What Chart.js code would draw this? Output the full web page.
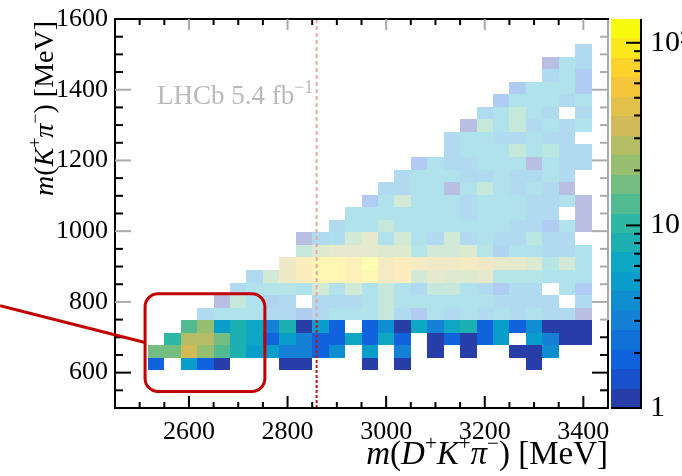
<!DOCTYPE html>
<html>
<head>
<meta charset="utf-8">
<title>m(D+K+pi-) vs m(K+pi-)</title>
<script src="https://cdn.jsdelivr.net/npm/chart.js@4.4.1/dist/chart.umd.min.js"></script>
<style>
  html, body { margin: 0; padding: 0; background: #fff; }
  canvas { display: block; }
</style>
</head>
<body>
<canvas id="myChart" width="682" height="476"></canvas>
<script>
// binning of the 2D histogram
var xMin = 2450, xMax = 3450, nBinsX = 30;
var yMin = 500, yMax = 1600, nBinsY = 31;
var zMin = 1, zMax = 135, nContours = 20;
var xStep = (xMax - xMin) / nBinsX;
var yStep = (yMax - yMin) / nBinsY;

var xTicks = [2600, 2800, 3000, 3200, 3400];
var yTicks = [600, 800, 1000, 1200, 1400, 1600];
var zTicks = [1, 10, 100];

// rows from this m(K+pi-) bin upwards are drawn faded
var fadeFromRow = 7;
// vertical marker
var thresholdMass = 2859;
// highlighted region and its pointer
var boxX = [2511, 2754], boxY = [547, 823];
var pointerFrom = [2217, 789], pointerTo = [2511, 685];

// entries per bin, one row per m(K+pi-) bin, starting at bin firstRow
var firstRow = 3;
var rowStart = [2, 2, 3, 4, 5, 6, 7, 8, 10, 11, 11, 13, 14, 15, 16, 17, 18, 20, 20, 21, 22, 23, 24, 26, 26, 28];
var rowCounts = [
  [2, 0, 5, 2, 1, 0, 0, 0, 1, 1, 0, 0, 0, 1, 0, 1, 0, 0, 0, 0, 0, 0, 0, 1],
  [18, 18, 38, 22, 12, 9, 5, 5, 3, 3, 2, 4, 0, 5, 0, 3, 0, 1, 0, 1, 0, 0, 1, 1, 4],
  [10, 27, 27, 18, 9, 6, 2, 5, 3, 2, 2, 6, 2, 6, 2, 0, 1, 2, 1, 2, 5, 0, 5, 3, 1, 1],
  [12, 22, 5, 9, 6, 3, 8, 1, 5, 2, 0, 2, 4, 1, 7, 3, 6, 9, 2, 5, 2, 4, 1, 1, 1],
  [4, 7, 7, 7, 4, 4, 2, 4, 7, 7, 7, 12, 4, 2, 7, 4, 7, 4, 7, 4, 7, 4, 4, 1],
  [1, 12, 7, 3, 4, 0, 4, 4, 4, 7, 12, 7, 7, 7, 7, 7, 7, 4, 4, 4, 4, 0, 4],
  [4, 7, 8, 8, 7, 15, 7, 15, 7, 12, 7, 4, 12, 12, 7, 4, 2, 4, 4, 0, 7, 2],
  [4, 18, 35, 55, 90, 100, 80, 100, 40, 60, 15, 30, 20, 22, 28, 8, 8, 8, 7, 7, 7],
  [35, 60, 90, 100, 80, 110, 50, 60, 40, 35, 35, 45, 35, 30, 30, 20, 8, 15, 7],
  [12, 20, 30, 30, 30, 20, 20, 8, 18, 18, 20, 8, 3, 7, 7, 4, 4, 7],
  [1, 4, 5, 15, 25, 7, 15, 7, 4, 15, 4, 7, 4, 4, 10, 4, 4],
  [4, 7, 7, 12, 7, 7, 7, 7, 7, 7, 7, 4, 4, 2, 7, 1],
  [7, 7, 7, 7, 7, 7, 7, 4, 7, 7, 7, 4, 4, 0, 1],
  [2, 7, 15, 7, 7, 7, 4, 7, 7, 7, 4, 4, 7, 1],
  [4, 4, 7, 7, 1, 7, 12, 7, 4, 7, 4, 1],
  [4, 7, 7, 7, 4, 4, 7, 4, 4, 7, 4],
  [2, 7, 4, 4, 7, 7, 7, 1, 7, 4, 4],
  [4, 7, 7, 7, 12, 7, 10, 4, 4],
  [4, 7, 7, 4, 4, 7, 4, 4],
  [1, 12, 7, 12, 4, 7, 4, 7],
  [4, 7, 12, 7, 4, 0, 4],
  [2, 7, 7, 7, 4, 7],
  [2, 7, 7, 7, 2],
  [4, 7, 2],
  [1, 7, 4],
  [4]
];

// ROOT kBird palette
var birdStops = [0, 0.125, 0.25, 0.375, 0.5, 0.625, 0.75, 0.875, 1];
var birdR = [0.2082, 0.0592, 0.0780, 0.0232, 0.1802, 0.5301, 0.8186, 0.9956, 0.9764];
var birdG = [0.1664, 0.3599, 0.5041, 0.6419, 0.7178, 0.7492, 0.7328, 0.7862, 0.9832];
var birdB = [0.5293, 0.8684, 0.8385, 0.7914, 0.6425, 0.4662, 0.3499, 0.1968, 0.0539];
var fadeAlpha = 0.33;

var serif = '"Liberation Serif", "Times New Roman", serif';

function bird(t) {
  var k = 0;
  while (k < birdStops.length - 2 && t > birdStops[k + 1]) k++;
  var f = (t - birdStops[k]) / (birdStops[k + 1] - birdStops[k]);
  function mix(a) { return Math.round(255 * (a[k] + (a[k + 1] - a[k]) * f)); }
  return [mix(birdR), mix(birdG), mix(birdB)];
}

function contourColor(i) {
  var idx = Math.floor((i + 0.99) * 255 / nContours);
  return bird(Math.min(idx, 254) / 254);
}

function levelOf(n) {
  var i = Math.floor(Math.log(n / zMin) / Math.log(zMax / zMin) * nContours);
  return Math.max(0, Math.min(nContours - 1, i));
}

function rgb(c, faded) {
  if (faded) c = c.map(function (v) { return Math.round(255 - (255 - v) * fadeAlpha); });
  return 'rgb(' + c[0] + ',' + c[1] + ',' + c[2] + ')';
}

// one point per filled bin
var cells = [];
rowCounts.forEach(function (row, k) {
  var j = firstRow + k;
  row.forEach(function (n, m) {
    if (n <= 0) return;
    var i = rowStart[k] + m;
    cells.push({
      x: xMin + (i + 0.5) * xStep,
      y: yMin + (j + 0.5) * yStep,
      v: n,
      faded: j >= fadeFromRow
    });
  });
});

var heatmap = {
  id: 'heatmap',
  beforeDatasetsDraw: function (chart) {
    var ctx = chart.ctx, xs = chart.scales.x, ys = chart.scales.y;
    ctx.save();
    chart.data.datasets[0].data.forEach(function (p) {
      var x0 = Math.round(xs.getPixelForValue(p.x - xStep / 2));
      var x1 = Math.round(xs.getPixelForValue(p.x + xStep / 2));
      var y0 = Math.round(ys.getPixelForValue(p.y - yStep / 2));
      var y1 = Math.round(ys.getPixelForValue(p.y + yStep / 2));
      ctx.fillStyle = rgb(contourColor(levelOf(p.v)), p.faded);
      ctx.fillRect(x0, y1, x1 - x0, y0 - y1);
    });
    ctx.restore();
  }
};

function seq(from, to, step) {
  var a = [];
  for (var v = from; v <= to + 1e-6; v += step) a.push(v);
  return a;
}

function line(ctx, x0, y0, x1, y1, color, w) {
  ctx.strokeStyle = color;
  ctx.lineWidth = w;
  ctx.beginPath();
  ctx.moveTo(x0, y0);
  ctx.lineTo(x1, y1);
  ctx.stroke();
}

// text made of roman / italic / superscript pieces
function fontFor(p, size) {
  var s = p[1] === 's' ? Math.round(size * 0.65) : size;
  return (p[1] === 'i' ? 'italic ' : '') + s + 'px ' + serif;
}
function richWidth(ctx, parts, size) {
  var w = 0;
  parts.forEach(function (p) {
    ctx.font = fontFor(p, size);
    w += ctx.measureText(p[0]).width;
  });
  return w;
}
function drawRich(ctx, parts, x, y, size) {
  parts.forEach(function (p) {
    ctx.font = fontFor(p, size);
    ctx.fillText(p[0], x, p[1] === 's' ? y - size * 0.42 : y);
    x += ctx.measureText(p[0]).width;
  });
}

var xTitle = [['m', 'i'], ['(', 'r'], ['D', 'i'], ['+', 's'], ['K', 'i'], ['+', 's'], ['\u03C0', 'i'], ['\u2212', 's'], [') [MeV]', 'r']];
var yTitle = [['m', 'i'], ['(', 'r'], ['K', 'i'], ['+', 's'], ['\u03C0', 'i'], ['\u2212', 's'], [') [MeV]', 'r']];
var lumiText = [['LHCb 5.4 fb', 'r'], ['\u22121', 's']];

var decorations = {
  id: 'decorations',
  afterDatasetsDraw: function (chart) {
    var ctx = chart.ctx, a = chart.chartArea;
    var xs = chart.scales.x, ys = chart.scales.y, zs = chart.scales.z;
    var fadeY = Math.round(ys.getPixelForValue(yMin + fadeFromRow * yStep));
    var gray = 'rgb(170,170,170)';
    ctx.save();

    // threshold marker
    var xt = xs.getPixelForValue(thresholdMass);
    ctx.setLineDash([4, 3]);
    line(ctx, xt, a.top, xt, fadeY, 'rgb(236,168,168)', 2);
    ctx.setLineDash([3, 2]);
    line(ctx, xt, fadeY, xt, a.bottom, 'rgb(185,25,25)', 2);
    ctx.setLineDash([]);

    // frame
    line(ctx, a.right, a.top, a.right, fadeY, gray, 2);
    line(ctx, a.right, fadeY, a.right, a.bottom, '#000', 2);
    line(ctx, a.left, a.top - 1, a.left, a.bottom + 1, '#000', 2);
    line(ctx, a.left, a.top, a.right + 1, a.top, '#000', 2);
    line(ctx, a.left, a.bottom, a.right + 1, a.bottom, '#000', 2);

    seq(xMin + 50, xMax - 50, 50).forEach(function (v) {
      var px = xs.getPixelForValue(v), major = v % 200 === 0;
      line(ctx, px, a.bottom, px, a.bottom - (major ? 12 : 6), '#000', 2);
      line(ctx, px, a.top, px, a.top + (major ? 11 : 6), major ? gray : '#000', 2);
    });
    seq(yMin + 50, yMax - 50, 50).forEach(function (v) {
      var py = ys.getPixelForValue(v), major = v % 200 === 0, upper = py < fadeY;
      var len = major ? 16 : 8;
      line(ctx, a.left, py, a.left + len, py, major && upper ? gray : '#000', 2);
      line(ctx, a.right, py, a.right - len, py, upper ? gray : '#000', 2);
    });

    // colour bar
    var cbL = a.right + 3, cbR = a.right + 33;
    for (var i = 0; i < nContours; i++) {
      var lo = zMin * Math.pow(zMax / zMin, i / nContours);
      var hi = zMin * Math.pow(zMax / zMin, (i + 1) / nContours);
      var y0 = Math.round(zs.getPixelForValue(lo)), y1 = Math.round(zs.getPixelForValue(hi));
      ctx.fillStyle = rgb(contourColor(i), false);
      ctx.fillRect(cbL, y1, cbR - cbL, y0 - y1);
    }
    line(ctx, cbR, a.top, cbR, a.bottom + 1, '#000', 2);
    line(ctx, cbL, a.bottom, cbR + 1, a.bottom, '#000', 2);
    [1, 10].forEach(function (d) {
      for (var k = 1; k <= 9; k++) {
        var v = d * k;
        if (v > zMax) return;
        var py = zs.getPixelForValue(v);
        line(ctx, cbR, py, cbR - (k === 1 ? 15 : 7), py, '#000', 2);
      }
    });
    var p100 = zs.getPixelForValue(100);
    line(ctx, cbR, p100, cbR - 15, p100, '#000', 2);

    // axis titles
    ctx.fillStyle = '#000';
    ctx.textBaseline = 'alphabetic';
    var tw = richWidth(ctx, xTitle, 33);
    drawRich(ctx, xTitle, a.right - tw, 464, 33);

    ctx.save();
    ctx.translate(53, a.top + 2);
    ctx.rotate(-Math.PI / 2);
    tw = richWidth(ctx, yTitle, 28);
    drawRich(ctx, yTitle, -tw, 0, 28);
    ctx.restore();

    ctx.fillStyle = 'rgb(185,185,185)';
    drawRich(ctx, lumiText, xs.getPixelForValue(2535), ys.getPixelForValue(1360), 27);

    // highlighted region
    var bx0 = xs.getPixelForValue(boxX[0]), bx1 = xs.getPixelForValue(boxX[1]);
    var by0 = ys.getPixelForValue(boxY[0]), by1 = ys.getPixelForValue(boxY[1]);
    ctx.strokeStyle = 'rgb(192,0,0)';
    ctx.lineWidth = 3;
    ctx.beginPath();
    ctx.roundRect(bx0, by1, bx1 - bx0, by0 - by1, 13);
    ctx.stroke();
    line(ctx, xs.getPixelForValue(pointerFrom[0]), ys.getPixelForValue(pointerFrom[1]),
      xs.getPixelForValue(pointerTo[0]), ys.getPixelForValue(pointerTo[1]), 'rgb(192,0,0)', 3);

    ctx.restore();
  }
};

function fixTicks(values) {
  return function (scale) {
    scale.ticks = values.map(function (v) { return { value: v }; });
  };
}

// keep the plot frame where the layout puts it, labels may overhang
function fixSize(prop, size) {
  return function (s) {
    s[prop] = size;
    s.paddingTop = 0; s.paddingBottom = 0;
    s.paddingLeft = 0; s.paddingRight = 0;
  };
}

function plain(v) { return String(v); }

var tickFont = { family: serif, size: 26 };

var ctx = document.getElementById('myChart');
var myChart = new Chart(ctx, {
  type: 'scatter',
  data: {
    datasets: [{
      label: 'entries',
      data: cells,
      pointRadius: 0,
      pointHoverRadius: 0
    }]
  },
  options: {
    responsive: false,
    animation: false,
    devicePixelRatio: 1,
    layout: { padding: { top: 19 } },
    plugins: { legend: { display: false }, tooltip: { enabled: false } },
    scales: {
      x: {
        type: 'linear', position: 'bottom', min: xMin, max: xMax,
        grid: { display: false, drawTicks: false }, border: { display: false },
        afterBuildTicks: fixTicks(xTicks),
        afterFit: fixSize('height', 68),
        ticks: { font: tickFont, color: '#000', padding: 9, maxRotation: 0, callback: plain }
      },
      y: {
        type: 'linear', position: 'left', min: yMin, max: yMax,
        grid: { display: false, drawTicks: false }, border: { display: false },
        afterBuildTicks: fixTicks(yTicks),
        afterFit: fixSize('width', 115),
        ticks: { font: tickFont, color: '#000', padding: 7, callback: plain }
      },
      z: {
        type: 'logarithmic', axis: 'y', position: 'right', min: zMin, max: zMax,
        grid: { display: false, drawTicks: false }, border: { display: false },
        afterBuildTicks: fixTicks(zTicks),
        afterFit: fixSize('width', 74),
        ticks: {
          font: { family: serif, size: 30 }, color: '#000', padding: 42,
          callback: function (v) { return v === 100 ? '10\u00B2' : String(v); }
        }
      }
    }
  },
  plugins: [heatmap, decorations]
});
</script>
</body>
</html>
